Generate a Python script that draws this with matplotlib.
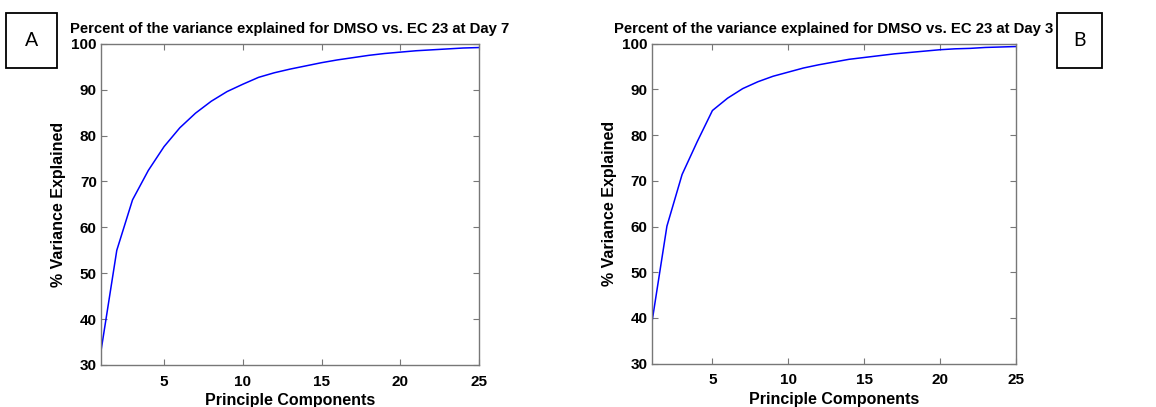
import numpy as np
import matplotlib
matplotlib.use('Agg')
import matplotlib.pyplot as plt
from matplotlib.patches import Rectangle

# principal components 1..25
components = list(range(1, 26))

# cumulative % variance explained
day7 = [33.1, 55.0, 66.0, 72.4, 77.6, 81.7, 84.9, 87.5, 89.6, 91.2,
        92.7, 93.7, 94.5, 95.2, 95.9, 96.5, 97.0, 97.5, 97.9, 98.2,
        98.5, 98.7, 98.9, 99.1, 99.2]
day3 = [38.8, 60.1, 71.4, 78.6, 85.4, 88.1, 90.2, 91.7, 92.9, 93.8,
        94.7, 95.4, 96.0, 96.6, 97.0, 97.4, 97.8, 98.1, 98.4, 98.7,
        98.9, 99.0, 99.2, 99.3, 99.4]

titles = ['Percent of the variance explained for DMSO vs. EC 23 at Day 7',
          'Percent of the variance explained for DMSO vs. EC 23 at Day 3']
panel_letters = ['A', 'B']
xticks = [5, 10, 15, 20, 25]
yticks = [30, 40, 50, 60, 70, 80, 90, 100]

plt.rcParams['font.family'] = ['Liberation Sans', 'DejaVu Sans']

fig = plt.figure(figsize=(11.56, 4.07), dpi=100)
ax1 = fig.add_axes([0.0874, 0.1032, 0.3270, 0.7890])
ax2 = fig.add_axes([0.5638, 0.1064, 0.3149, 0.7860])

for ax, series, title in zip([ax1, ax2], [day7, day3], titles):
    ax.plot(components, series, color='#0000ff', lw=1.1)
    ax.set_xlim(1, 25)
    ax.set_ylim(30, 100)
    ax.set_xticks(xticks)
    ax.set_yticks(yticks)
    ax.tick_params(direction='in', top=True, right=True, length=4,
                   width=0.8, color='#777777', labelsize=11)
    ax.tick_params(axis='x', pad=7)
    ax.tick_params(axis='y', pad=3)
    for lbl in ax.get_xticklabels() + ax.get_yticklabels():
        lbl.set_fontweight('bold')
    for s in ax.spines.values():
        s.set_color('#777777')
        s.set_linewidth(1.0)
    ax.set_title(title, fontsize=10.7, fontweight='bold', pad=8)
    ax.set_xlabel('Principle Components', fontsize=11.5, fontweight='bold', labelpad=3)
    ax.set_ylabel('% Variance Explained', fontsize=11.5, fontweight='bold', labelpad=4)

# panel letter boxes
W, H = 1156., 407.
for letter, (x0, y0, x1, y1) in zip(panel_letters, [(6, 13, 57, 68), (1057, 13, 1102, 68)]):
    fig.patches.append(Rectangle((x0 / W, 1 - y1 / H), (x1 - x0) / W, (y1 - y0) / H,
                                 transform=fig.transFigure, fill=False,
                                 edgecolor='black', lw=1.3))
    fig.text((x0 + x1) / 2 / W, 1 - (y0 + y1) / 2 / H, letter, ha='center', va='center',
             fontsize=14, family=['Lato', 'DejaVu Sans'])

fig.savefig('out.png', dpi=100)
